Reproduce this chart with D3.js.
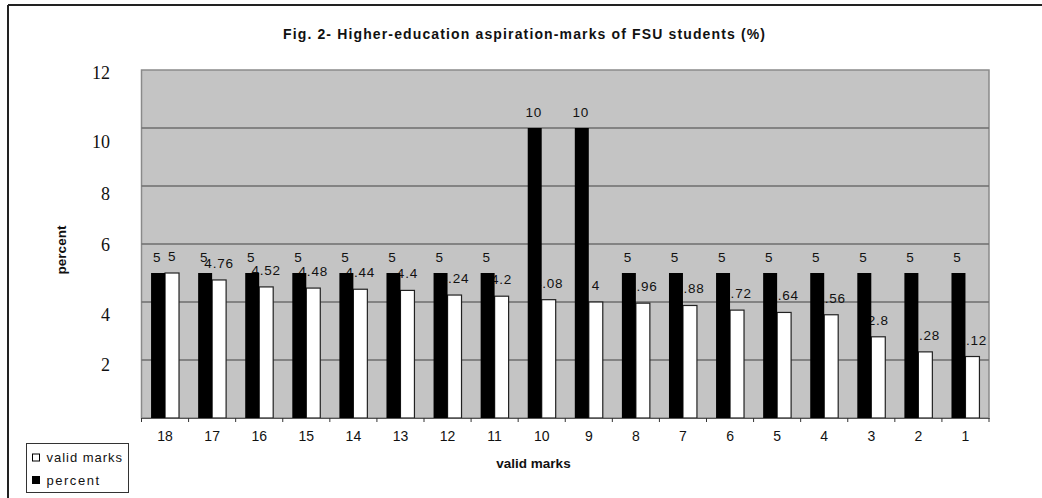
<!DOCTYPE html>
<html><head><meta charset="utf-8">
<script src="https://cdn.jsdelivr.net/npm/d3@7"></script>
<style>
html,body{margin:0;padding:0;background:#fff;}
svg{display:block;}
text{font-family:Arial,"Liberation Sans",sans-serif;fill:#111;}
</style></head>
<body>
<svg id="chart" width="1042" height="498"></svg>
<script>
const categories = ["18","17","16","15","14","13","12","11","10","9","8","7","6","5","4","3","2","1"];
const percentValues = [5,5,5,5,5,5,5,5,10,10,5,5,5,5,5,5,5,5];
const validMarksValues = [5,4.76,4.52,4.48,4.44,4.4,4.24,4.2,4.08,4,3.96,3.88,3.72,3.64,3.56,2.8,2.28,2.12];
const yTickValues = [2,4,6,8,10,12];
const seriesNames = ["valid marks","percent"];
const titleText = "Fig. 2- Higher-education aspiration-marks of FSU students (%)";
const xTitle = "valid marks";
const yTitle = "percent";

const svg = d3.select("#chart");
const plot = {left:141.5, right:989, top:70, bottom:418};

const x = d3.scaleBand().domain(categories).range([plot.left, plot.right]).padding(0);
const y = d3.scaleLinear().domain([0,12]).range([plot.bottom, plot.top]);
const bw = x.bandwidth();
const barW = bw * 0.297;
const pairOff = (bw - 2*barW)/2;

// outer frame
svg.append("line").attr("x1",8).attr("x2",1042).attr("y1",5).attr("y2",5).attr("stroke","#222").attr("stroke-width",2);
svg.append("line").attr("x1",8).attr("x2",8).attr("y1",5).attr("y2",498).attr("stroke","#222").attr("stroke-width",2);

// title
svg.append("text").attr("x",524).attr("y",38.5).attr("text-anchor","middle")
  .attr("font-size",14).attr("font-weight","bold")
  .attr("textLength",482).attr("lengthAdjust","spacing").text(titleText);

// plot area
svg.append("rect").attr("x",plot.left).attr("y",plot.top)
  .attr("width",plot.right-plot.left).attr("height",plot.bottom-plot.top)
  .attr("fill","#c4c4c4").attr("stroke","#8a8a8a").attr("stroke-width",1.5);

// gridlines
svg.append("g").selectAll("line").data(yTickValues.filter(v=>v<12)).join("line")
  .attr("x1",plot.left).attr("x2",plot.right)
  .attr("y1",d=>y(d)).attr("y2",d=>y(d))
  .attr("stroke","#6e6e6e").attr("stroke-width",1.3);

// y tick labels (serif as in reference)
const nudge = {2:5,4:13,6:1,8:8,10:14,12:3};
svg.append("g").selectAll("text").data(yTickValues).join("text")
  .attr("x",110).attr("y",d=>y(d)+nudge[d]).attr("dy","0.35em")
  .attr("text-anchor","end")
  .style("font-family","'Liberation Serif','Times New Roman',serif")
  .attr("font-size",18).text(d=>d);

// y title
svg.append("text").attr("transform","translate(66,250) rotate(-90)")
  .attr("text-anchor","middle").attr("font-size",13.5).attr("font-weight","bold").text(yTitle);

// white bars (valid marks)
const g = svg.append("g");
g.selectAll("rect.vm").data(validMarksValues).join("rect").attr("class","vm")
  .attr("x",(d,i)=>x(categories[i])+pairOff+barW)
  .attr("y",d=>y(d)).attr("width",barW).attr("height",d=>y(0)-y(d))
  .attr("fill","#fff").attr("stroke","#222").attr("stroke-width",1.2);

// white bar labels (drawn before black bars, which overlap them)
g.selectAll("text.vml").data(validMarksValues).join("text").attr("class","vml")
  .attr("x",(d,i)=>x(categories[i])+pairOff+barW*1.5)
  .attr("y",d=>y(d)-12).attr("text-anchor","middle")
  .attr("font-size",13.5).attr("letter-spacing",0.8).text(d=>d);

// black bars (percent)
g.selectAll("rect.pc").data(percentValues).join("rect").attr("class","pc")
  .attr("x",(d,i)=>x(categories[i])+pairOff)
  .attr("y",d=>y(d)).attr("width",barW).attr("height",d=>y(0)-y(d))
  .attr("fill","#000");

g.selectAll("text.pcl").data(percentValues).join("text").attr("class","pcl")
  .attr("x",(d,i)=>x(categories[i])+pairOff+barW*0.5-1)
  .attr("y",d=>y(d)-11).attr("text-anchor","middle")
  .attr("font-size",13.5).attr("letter-spacing",0.8).text(d=>d);

// x axis: labels via d3 axis, ticks at category boundaries
const xAxis = svg.append("g").attr("transform",`translate(0,${plot.bottom})`)
  .call(d3.axisBottom(x).tickSize(0).tickPadding(13));
xAxis.select(".domain").attr("stroke","#555");
xAxis.selectAll("text").attr("font-size",14).style("font-family","Arial,'Liberation Sans',sans-serif").attr("fill","#111");
const bounds = categories.map(c=>x(c)).concat([plot.right]);
svg.append("g").selectAll("line").data(bounds).join("line")
  .attr("x1",d=>d).attr("x2",d=>d).attr("y1",plot.bottom).attr("y2",plot.bottom+4)
  .attr("stroke","#333").attr("stroke-width",1);

// x title
svg.append("text").attr("x",533.5).attr("y",468).attr("text-anchor","middle")
  .attr("font-size",13.5).attr("font-weight","bold").text(xTitle);

// legend
const lg = svg.append("g");
lg.append("rect").attr("x",26.5).attr("y",443.5).attr("width",102).attr("height",49)
  .attr("fill","#fff").attr("stroke","#333").attr("stroke-width",1);
const legendFills = ["#fff","#000"];
seriesNames.forEach((n,i)=>{
  const cy = 457.5 + i*22.5;
  lg.append("rect").attr("x",32.5).attr("y",cy-3.5).attr("width",7).attr("height",7)
    .attr("fill",legendFills[i]).attr("stroke","#000").attr("stroke-width",1);
  lg.append("text").attr("x",46.5).attr("y",cy+4.5).attr("font-size",13)
    .attr("textLength", i===0?75.5:52.5).attr("lengthAdjust","spacing").text(n);
});
</script>
</body></html>
